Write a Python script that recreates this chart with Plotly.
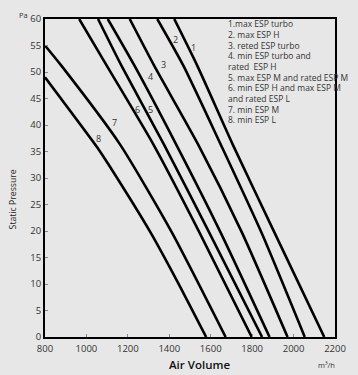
import plotly.graph_objects as go

# Curve data (Air Volume m3/h, Static Pressure Pa)
curve_names = ["1", "2", "3", "4", "5", "6", "7", "8"]
c1_x = [1424, 1535, 1706, 1908, 2148]
c1_y = [60, 51.2, 36.35, 19.7, 0]
c2_x = [1342, 1468, 1648, 1845, 2054]
c2_y = [60, 51.2, 36.35, 19.7, 0]
c3_x = [1209, 1327, 1539, 1751, 1971]
c3_y = [60, 51.2, 36.35, 19.7, 0]
c4_x = [1103, 1232, 1433, 1648, 1884]
c4_y = [60, 51.2, 36.35, 19.7, 0]
c5_x = [1056, 1169, 1374, 1593, 1848]
c5_y = [60, 51.2, 36.35, 19.7, 0]
c6_x = [965, 1098, 1323, 1546, 1798]
c6_y = [60, 51.2, 36.35, 19.7, 0]
c7_x = [800, 879, 1162, 1413, 1672]
c7_y = [55, 51.2, 36.35, 19.7, 0]
c8_x = [800, 1059, 1106, 1310, 1436, 1578]
c8_y = [49, 35.4, 32.6, 19.7, 10.7, 0]

label_x = [1517, 1432, 1370, 1308, 1308, 1248, 1135, 1059]
label_y = [54.7, 56.2, 51.5, 49.2, 43.0, 43.0, 40.4, 37.5]

legend_lines = [
    "1.max ESP turbo",
    "2. max ESP H",
    "3. reted ESP turbo",
    "4. min ESP turbo and",
    "rated  ESP H",
    "5. max ESP M and rated ESP M",
    "6. min ESP H and max ESP M",
    "and rated ESP L",
    "7. min ESP M",
    "8. min ESP L",
]

x_ticks = [800, 1000, 1200, 1400, 1600, 1800, 2000, 2200]
y_ticks = [0, 5, 10, 15, 20, 25, 30, 35, 40, 45, 50, 55, 60]

curves = [(c1_x, c1_y), (c2_x, c2_y), (c3_x, c3_y), (c4_x, c4_y),
          (c5_x, c5_y), (c6_x, c6_y), (c7_x, c7_y), (c8_x, c8_y)]

BG = "#e7e7e7"
FONT = "Open Sans"
PLOT_TOP, PLOT_H = 12, 325  # pixel geometry of the plot area

fig = go.Figure()
for name, (xs, ys) in zip(curve_names, curves):
    fig.add_trace(go.Scatter(
        x=xs, y=ys, mode="lines", name=name,
        line=dict(color="#000000", width=2.6, shape="spline", smoothing=0.6),
        showlegend=False, hoverinfo="skip", cliponaxis=True,
    ))

annotations = []
for name, lx, ly in zip(curve_names, label_x, label_y):
    annotations.append(dict(x=lx, y=ly, xref="x", yref="y", text=name,
                            xanchor="center", yanchor="middle",
                            showarrow=False, font=dict(family=FONT, size=9, color="#333333")))

for i, line in enumerate(legend_lines):
    y_px = 17 + i * 10.9
    annotations.append(dict(
        x=0.624, y=(PLOT_TOP + PLOT_H - y_px) / PLOT_H, xref="paper", yref="paper",
        xanchor="left", yanchor="middle", align="left", text=line, showarrow=False,
        font=dict(family=FONT, size=8.5, color="#333333"),
    ))

annotations.append(dict(x=-0.074, y=1.012, xref="paper", yref="paper", text="Pa",
                        xanchor="center", yanchor="middle",
                        showarrow=False, font=dict(family=FONT, size=7.5, color="#333333")))
annotations.append(dict(x=0.97, y=-0.089, xref="paper", yref="paper", text="m³/h",
                        xanchor="center", yanchor="middle",
                        showarrow=False, font=dict(family=FONT, size=7.5, color="#333333")))
annotations.append(dict(x=0.534, y=-0.085, xref="paper", yref="paper", text="Air Volume",
                        xanchor="center", yanchor="middle",
                        showarrow=False, font=dict(family=FONT, size=11.5, color="#111111", weight=600)))
annotations.append(dict(x=-0.109, y=0.434, xref="paper", yref="paper", text="Static Pressure",
                        xanchor="center", yanchor="middle",
                        textangle=-90, showarrow=False,
                        font=dict(family=FONT, size=8.7, color="#222222")))

fig.update_layout(
    width=358, height=375,
    margin=dict(l=45, r=16, t=PLOT_TOP, b=375 - PLOT_TOP - PLOT_H),
    paper_bgcolor=BG, plot_bgcolor=BG,
    annotations=annotations,
    font=dict(family=FONT, color="#333333"),
)
fig.update_xaxes(
    range=[800, 2200], tickvals=x_ticks, ticktext=[str(v) for v in x_ticks],
    showgrid=False, zeroline=False, showline=True, linecolor="#000000", linewidth=2,
    mirror=True, ticks="inside", ticklen=3, tickcolor="#888888", ticklabelstandoff=2,
    tickfont=dict(family=FONT, size=9.5, color="#333333"),
)
fig.update_yaxes(
    range=[0, 60], tickvals=y_ticks, ticktext=[str(v) for v in y_ticks],
    showgrid=False, zeroline=False, showline=True, linecolor="#000000", linewidth=2,
    mirror=True, ticks="inside", ticklen=3, tickcolor="#888888",
    tickfont=dict(family=FONT, size=9.5, color="#333333"),
)

fig.write_html(
    "out.html",
    config={"displayModeBar": False},
    post_script="document.body.style.margin='0';document.body.style.background='%s';" % BG,
)
